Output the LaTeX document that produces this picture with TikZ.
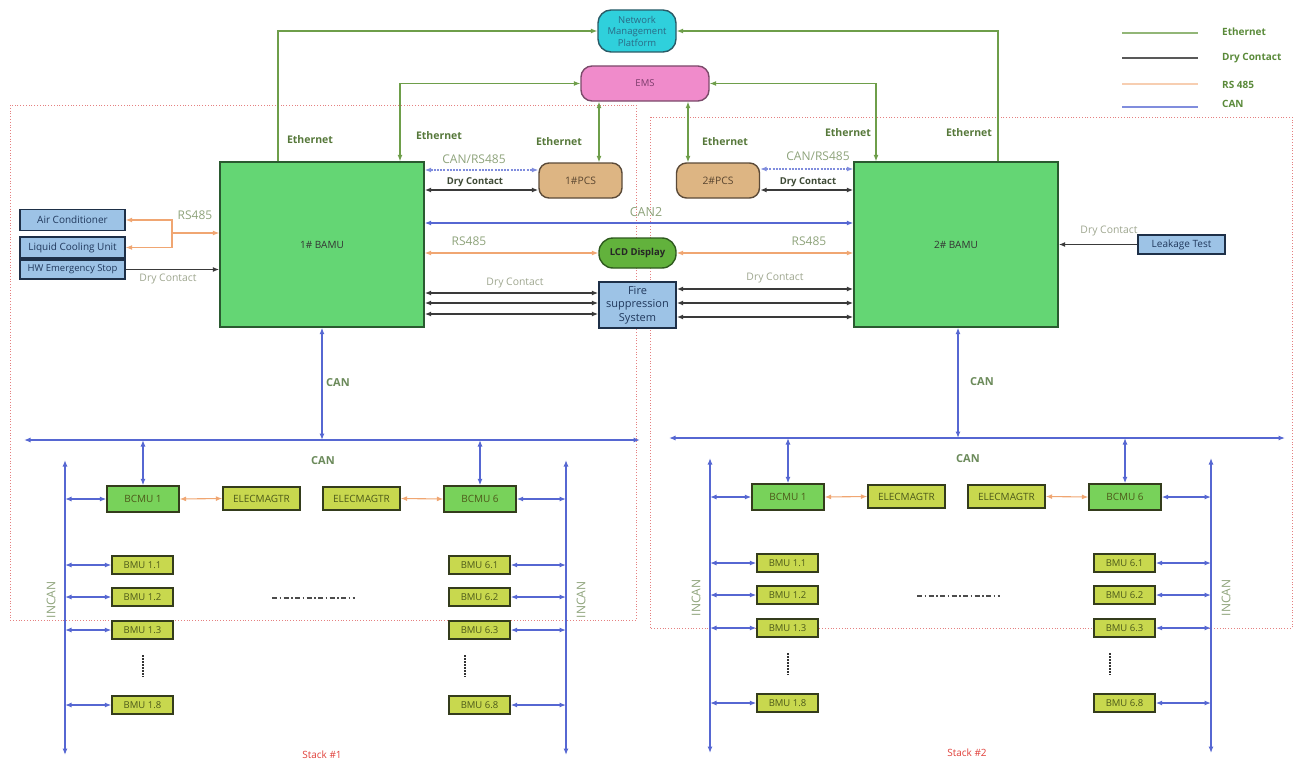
\documentclass[tikz,border=0pt]{standalone}
\usepackage{fontspec}
\setmainfont{Open Sans}
\usetikzlibrary{arrows.meta,calc}
\definecolor{ethC}{HTML}{6E9E4A}
\definecolor{ethT}{HTML}{56783A}
\definecolor{dryC}{HTML}{3A3A3A}
\definecolor{rsC}{HTML}{F0A672}
\definecolor{canC}{HTML}{5667D2}
\definecolor{labG}{HTML}{8EA37B}
\definecolor{labD}{HTML}{9EA68F}
\definecolor{labB}{HTML}{3E4A36}
\definecolor{canT}{HTML}{6B8A5A}
\definecolor{bamuF}{HTML}{64D674}
\definecolor{bamuD}{HTML}{2A5A30}
\definecolor{bcmuF}{HTML}{78D25A}
\definecolor{yelF}{HTML}{C8D84E}
\definecolor{yelD}{HTML}{343C1C}
\definecolor{yelT}{HTML}{4D5A1A}
\definecolor{bluF}{HTML}{9DC3E6}
\definecolor{bluD}{HTML}{1E3048}
\definecolor{bluT}{HTML}{20385C}
\definecolor{nmpF}{HTML}{2FD0DC}
\definecolor{nmpD}{HTML}{2A5A66}
\definecolor{nmpT}{HTML}{2B6A86}
\definecolor{emsF}{HTML}{F08BCB}
\definecolor{emsD}{HTML}{7A4A6A}
\definecolor{emsT}{HTML}{7B3B6B}
\definecolor{pcsF}{HTML}{DDB583}
\definecolor{pcsD}{HTML}{5B4A38}
\definecolor{pcsT}{HTML}{5A4630}
\definecolor{lcdF}{HTML}{62B23C}
\definecolor{lcdD}{HTML}{2E5A1E}
\definecolor{redB}{HTML}{E58080}
\definecolor{stkR}{HTML}{E0403A}
\definecolor{legT}{HTML}{5A8A3A}
\begin{document}
\begin{tikzpicture}[x=1pt,y=-1pt,
  >={Latex[length=6.5pt,width=5pt]},
  eth/.style={line width=1.1pt,draw=ethC},
  dry/.style={line width=1.4pt,draw=dryC},
  rs/.style={line width=1.1pt,draw=rsC},
  can/.style={line width=1.2pt,draw=canC},
  canD/.style={line width=1.2pt,draw=canC!75,dash pattern=on 2pt off 1.2pt},
  bnd/.style={draw=redB,line width=0.8pt,dash pattern=on 1pt off 1.8pt},
  bx/.style={draw,line width=1.4pt,inner sep=0pt,align=center},
  bamu/.style={bx,fill=bamuF,draw=bamuD,minimum width=204pt,minimum height=165pt,text=black!80,font=\fontsize{10}{12}\selectfont},
  bluebox/.style={bx,fill=bluF,draw=bluD,text=bluT,font=\fontsize{10}{12}\selectfont},
  pcsst/.style={bx,fill=pcsF,draw=pcsD,text=pcsT,rounded corners=10pt,minimum width=83pt,minimum height=35pt,font=\fontsize{10.3}{12}\selectfont},
  bcmust/.style={bx,fill=bcmuF,draw=yelD,text=yelT,minimum width=72pt,minimum height=26pt,font=\fontsize{10}{12}\selectfont},
  yelst/.style={bx,fill=yelF,draw=yelD,text=yelT,minimum width=77pt,minimum height=23pt,font=\fontsize{10}{12}\selectfont},
  bmust/.style={bx,fill=yelF,draw=yelD,text=yelT,minimum width=61pt,minimum height=18pt,font=\fontsize{9.5}{11}\selectfont},
  ethL/.style={text=ethT,inner sep=0pt,font=\bfseries\fontsize{10.5}{12}\selectfont},
  grL/.style={text=labG,inner sep=0pt,font=\fontsize{12}{14}\selectfont},
  dryB/.style={text=labB,inner sep=0pt,font=\bfseries\fontsize{9.5}{11}\selectfont},
  dryL/.style={text=labD,inner sep=0pt,font=\fontsize{10.4}{12}\selectfont},
  canL/.style={text=canT,inner sep=0pt,font=\bfseries\fontsize{11}{13}\selectfont},
  legL/.style={text=legT,inner sep=0pt,anchor=west,font=\bfseries\fontsize{10}{12}\selectfont},
  dashdot/.style={draw=black!70,line width=1.5pt,dash pattern=on 5pt off 2.5pt on 1.5pt off 2.5pt},
  vdots/.style={draw=black!80,line width=1.5pt,dash pattern=on 1.5pt off 1.5pt}
]
\useasboundingbox (0,0) rectangle (1301,760);

% boundaries
\draw[bnd] (10,105) rectangle (636,620);
\draw[bnd] (650,117) rectangle (1292,628);

% main nodes
\node[bamu] (bamu1) at (322,244.5) {1\# BAMU};
\node[bamu] (bamu2) at (956,244.5) {2\# BAMU};
\node[bx,fill=nmpF,draw=nmpD,text=nmpT,rounded corners=13pt,minimum width=78pt,minimum height=42pt,font=\fontsize{9.5}{11.5}\selectfont] (nmp) at (637,31) {Network\\Management\\Platform};
\node[bx,fill=emsF,draw=emsD,text=emsT,rounded corners=11pt,minimum width=128pt,minimum height=35pt,font=\fontsize{9.5}{11}\selectfont] (ems) at (645,83.5) {EMS};
\node[pcsst] (pcs1) at (580.5,180.5) {1\#PCS};
\node[pcsst] (pcs2) at (718,180.5) {2\#PCS};
\node[bx,fill=lcdF,draw=lcdD,text=black!85,rounded corners=14pt,minimum width=77pt,minimum height=30pt,font=\bfseries\fontsize{9.5}{11}\selectfont] (lcd) at (637.5,253) {LCD Display};
\node[bluebox,minimum width=77pt,minimum height=46pt,font=\fontsize{11}{13.5}\selectfont] (fire) at (637.5,305) {Fire\\suppression\\System};
\node[bluebox,minimum width=105pt,minimum height=21pt] (ac) at (72.5,220) {Air Conditioner};
\node[bluebox,minimum width=105pt,minimum height=21pt] (lcu) at (72.5,247.5) {Liquid Cooling Unit};
\node[bluebox,minimum width=105pt,minimum height=19pt,font=\fontsize{9.5}{11}\selectfont] (hw) at (72.5,269.5) {HW Emergency Stop};
\node[bluebox,minimum width=87pt,minimum height=19pt] (leak) at (1181.5,244.5) {Leakage Test};

% Ethernet connectors
\draw[eth,->] ([xshift=-44pt]bamu1.north) |- (nmp.west);
\draw[eth,->] ([xshift=42pt]bamu2.north) |- (nmp.east);
\draw[eth,<->] (ems.west) -| ([xshift=78pt]bamu1.north);
\draw[eth,<->] (ems.east) -| ([xshift=-80pt]bamu2.north);
\coordinate (p1e) at ([xshift=18.5pt]pcs1.north);
\coordinate (p2e) at ([xshift=-30pt]pcs2.north);
\draw[eth,<->] (ems.south -| p1e) -- (p1e);
\draw[eth,<->] (ems.south -| p2e) -- (p2e);

% PCS links
\coordinate (p1a) at ($(pcs1.west)+(0,-10.5)$);
\coordinate (p1b) at ($(pcs1.west)+(0,9.5)$);
\coordinate (p2a) at ($(pcs2.east)+(0,-11.5)$);
\coordinate (p2b) at ($(pcs2.east)+(0,9.5)$);
\draw[canD,<->] (p1a -| bamu1.east) -- (p1a);
\draw[dry,<->] (p1b -| bamu1.east) -- (p1b);
\draw[canD,<->] (p2a) -- (p2a -| bamu2.west);
\draw[dry,<->] (p2b) -- (p2b -| bamu2.west);

% CAN2 and RS485 to LCD
\draw[can,<->] ([yshift=21.5pt]bamu1.east) -- ([yshift=21.5pt]bamu2.west);
\draw[rs,<->] (lcd.west -| bamu1.east) -- (lcd.west);
\draw[rs,<->] (lcd.east) -- (lcd.east -| bamu2.west);

% Fire suppression dry contacts
\foreach \o in {-12,-2,9} {
  \coordinate (fl) at ($(fire.west)+(0,\o)$);
  \draw[dry,<->] (fl -| bamu1.east) -- (fl);
}
\foreach \o in {-16,-2,12} {
  \coordinate (fr) at ($(fire.east)+(0,\o)$);
  \draw[dry,<->] (fr) -- (fr -| bamu2.west);
}

% left side peripherals
\coordinate (rsj) at (172,233);
\draw[rs,->] (rsj) -- (rsj -| bamu1.west);
\draw[rs,->] (rsj) |- (ac.east);
\draw[rs,->] (rsj) |- (lcu.east);
\draw[dry,->] (hw.east) -- (hw.east -| bamu1.west);
\draw[dry,->] (leak.west) -- (leak.west -| bamu2.east);

% labels top
\node[ethL] (le1) at (310,140) {Ethernet};
\node[ethL] (le2) at (439,136) {Ethernet};
\node[ethL] (le3) at (559,142) {Ethernet};
\node[ethL] (le4) at (725,142) {Ethernet};
\node[ethL] (le5) at (848,133) {Ethernet};
\node[ethL] (le6) at (969,133) {Ethernet};
\node[grL] (lcr1) at (474,159) {CAN/RS485};
\node[grL] (lcr2) at (818,156) {CAN/RS485};
\node[dryB] (ldb1) at (475,182) {Dry Contact};
\node[dryB] (ldb2) at (808,182) {Dry Contact};
\node[grL,font=\fontsize{12.5}{14}\selectfont] (lcan2) at (646,212) {CAN2};
\node[grL] (lrs1) at (469,241) {RS485};
\node[grL] (lrs2) at (809,241) {RS485};
\node[grL] (lrs3) at (195,215) {RS485};
\node[dryL] (ld1) at (515,283) {Dry Contact};
\node[dryL] (ld2) at (775,278) {Dry Contact};
\node[dryL] (ld3) at (168,279) {Dry Contact};
\node[dryL] (ld4) at (1109,231) {Dry Contact};
\node[canL] (lcanA) at (338,383) {CAN};
\node[canL] (lcanB) at (982,382) {CAN};

% legend
\coordinate (lg1a) at (1122,33);  \coordinate (lg1b) at (1198,33);
\coordinate (lg2a) at (1122,58);  \coordinate (lg2b) at (1198,58);
\coordinate (lg3a) at (1122,84);  \coordinate (lg3b) at (1198,84);
\coordinate (lg4a) at (1122,107); \coordinate (lg4b) at (1198,107);
\draw[line width=1.5pt,draw=ethC!75] (lg1a) -- (lg1b);
\draw[line width=1.8pt,draw=black!65] (lg2a) -- (lg2b);
\draw[line width=1.5pt,draw=rsC!55] (lg3a) -- (lg3b);
\draw[line width=1.5pt,draw=canC!75] (lg4a) -- (lg4b);
\node[legL] (lt1) at (1222,32) {Ethernet};
\node[legL] (lt2) at (1222,58) {Dry Contact};
\node[legL] (lt3) at (1222,85) {RS 485};
\node[legL] (lt4) at (1222,104) {CAN};

% stacks
\foreach \s/\dx/\dy in {1/0/0, 2/645/-2} {
 \begin{scope}[shift={(\dx,\dy)}]
  \coordinate (busW\s) at (24,440);
  \coordinate (busE\s) at (640,440);
  \coordinate (inLt\s) at (65,460);
  \coordinate (inLb\s) at (65,755);
  \coordinate (inRt\s) at (566,460);
  \coordinate (inRb\s) at (566,755);
  \draw[can,<->] (busW\s) -- (busE\s);
  \draw[can,<->] (inLt\s) -- (inLb\s);
  \draw[can,<->] (inRt\s) -- (inRb\s);
  \node[bcmust] (bcmuA\s) at (143,499) {BCMU 1};
  \node[yelst] (elA\s) at (261.5,498.5) {ELECMAGTR};
  \node[yelst] (elB\s) at (361.5,498.5) {ELECMAGTR};
  \node[bcmust] (bcmuB\s) at (480,499) {BCMU 6};
  \draw[can,<->] (bcmuA\s.north |- busW\s) -- (bcmuA\s.north);
  \draw[can,<->] (bcmuB\s.north |- busW\s) -- (bcmuB\s.north);
  \draw[can,<->] (inLt\s |- bcmuA\s.west) -- (bcmuA\s.west);
  \draw[can,<->] (bcmuB\s.east) -- (inRt\s |- bcmuB\s.east);
  \draw[rs,<->] (bcmuA\s.east) -- (elA\s.west);
  \draw[rs,<->] (elB\s.east) -- (bcmuB\s.west);
  \foreach \k/\yy in {1/565,2/597,3/630,8/705} {
    \node[bmust] (bmuL\s\k) at (142.5,\yy) {BMU 1.\k};
    \node[bmust] (bmuR\s\k) at (479.5,\yy) {BMU 6.\k};
    \draw[can,<->] (inLt\s |- bmuL\s\k.west) -- (bmuL\s\k.west);
    \draw[can,<->] (bmuR\s\k.east) -- (inRt\s |- bmuR\s\k.east);
  }
  \coordinate (dA\s) at (143,655); \coordinate (dB\s) at (143,677);
  \coordinate (dC\s) at (465,655); \coordinate (dD\s) at (465,677);
  \draw[vdots] (dA\s) -- (dB\s);
  \draw[vdots] (dC\s) -- (dD\s);
  \coordinate (ddA\s) at (272,598); \coordinate (ddB\s) at (355,598);
  \draw[dashdot] (ddA\s) -- (ddB\s);
  \node[grL,rotate=90] (inl\s) at (51,600) {INCAN};
  \node[grL,rotate=90] (inr\s) at (581,600) {INCAN};
  \node[canL] (lcb\s) at (323,461) {CAN};
  \node[text=stkR,inner sep=0pt,font=\fontsize{10}{12}\selectfont] (stk\s) at (322,755) {Stack \#\s};
 \end{scope}
}
\draw[can,<->] (bamu1.south) -- (bamu1.south |- busW1);
\draw[can,<->] ([xshift=2pt]bamu2.south) -- ([xshift=2pt]bamu2.south |- busW2);
\end{tikzpicture}
\end{document}
